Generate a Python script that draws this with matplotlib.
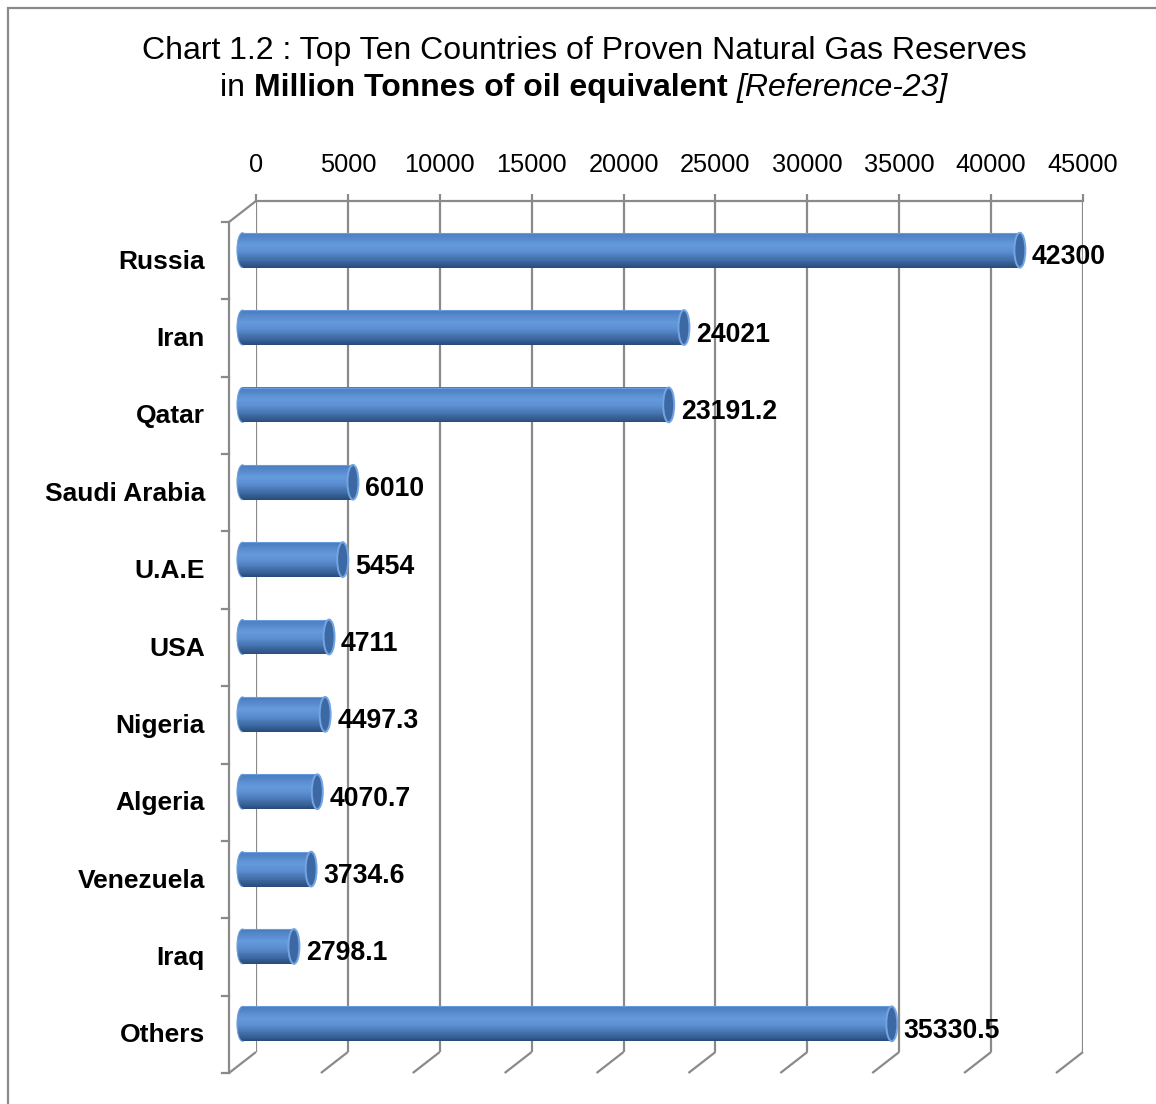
import matplotlib
matplotlib.use("Agg")
import matplotlib.pyplot as plt
import numpy as np
from matplotlib.transforms import ScaledTranslation
from matplotlib.patches import Ellipse, Rectangle
from matplotlib.colors import LinearSegmentedColormap

countries = ["Russia", "Iran", "Qatar", "Saudi Arabia", "U.A.E", "USA",
             "Nigeria", "Algeria", "Venezuela", "Iraq", "Others"]
reserves = [42300, 24021, 23191.2, 6010, 5454, 4711, 4497.3, 4070.7,
            3734.6, 2798.1, 35330.5]
value_labels = ["42300", "24021", "23191.2", "6010", "5454", "4711",
                "4497.3", "4070.7", "3734.6", "2798.1", "35330.5"]
xticks = [0, 5000, 10000, 15000, 20000, 25000, 30000, 35000, 40000, 45000]

FONT = "Liberation Sans"
W, H = 1156, 1104
fig = plt.figure(figsize=(W / 100, H / 100), dpi=100)

# back-plane pixel geometry
L, R, T, B = 256, 1083, 201, 1052
ax = fig.add_axes([L / W, 1 - B / H, (R - L) / W, (B - T) / H])
ax.set_xlim(0, 45000)
n = len(countries)
ax.set_ylim(n - 0.5, -0.5)
ax.set_facecolor("none")
for s in ["left", "right", "bottom"]:
    ax.spines[s].set_visible(False)
ax.spines["top"].set_color("#8a8a8a")
ax.spines["top"].set_linewidth(1.6)
ax.xaxis.tick_top()
ax.set_xticks(xticks)
ax.set_xticklabels([str(t) for t in xticks], fontfamily=FONT, fontsize=18.3)
ax.tick_params(axis="x", direction="out", length=5, width=1.6, color="#8a8a8a",
               pad=12)
ax.set_yticks([])
ax.grid(axis="x", color="#8a8a8a", linewidth=1.6)
ax.set_axisbelow(True)

# pixel -> data conversions
px_x = 45000 / (R - L)
px_y = n / (B - T)
DX, DY = 27, 21  # front plane offset (left, down)

gray = "#8a8a8a"
# floor diagonals
for t in xticks:
    ax.plot([t, t - DX * px_x], [n - 0.5, n - 0.5 + DY * px_y], color=gray,
            lw=1.6, clip_on=False, solid_capstyle="butt")
# left wall
fx = -DX * px_x
ax.plot([fx, fx], [-0.5 + DY * px_y, n - 0.5 + DY * px_y], color=gray, lw=1.6,
        clip_on=False)
ax.plot([0, fx], [-0.5, -0.5 + DY * px_y], color=gray, lw=1.6, clip_on=False)
for k in range(n + 1):
    yy = k - 0.5 + DY * px_y
    ax.plot([fx, fx - 7 * px_x], [yy, yy], color=gray, lw=1.6, clip_on=False)

# bars (mid-depth plane)
mid = ax.transData + ScaledTranslation(-13.5 / 100, -10.5 / 100, fig.dpi_scale_trans)
front = ax.transData + ScaledTranslation(-DX / 100, -(DY + 1) / 100, fig.dpi_scale_trans)
lab_tr = mid + ScaledTranslation(0, -7 / 100, fig.dpi_scale_trans)

cmap = LinearSegmentedColormap.from_list(
    "cyl", [(0.0, "#4a7bbd"), (0.12, "#5487ca"), (0.35, "#6499db"),
            (0.55, "#5b8ed0"), (0.8, "#3f6ca6"), (1.0, "#2a4d7b")])
bh = 0.45
N = 40
cap_w = 11 * px_x
for i, v in enumerate(reserves):
    # left rounded end (gradient strips clipped by an ellipse)
    le = Ellipse((0, i), cap_w, bh, transform=mid, facecolor="none",
                 edgecolor="#6e9edb", lw=0.8, zorder=3.5, clip_on=False)
    ax.add_patch(le)
    for j in range(N):
        yy = i - bh / 2 + (j + 0.5) * bh / N
        c = cmap(j / (N - 1))
        lb = ax.barh(yy, cap_w, height=bh / N * 1.08, left=-cap_w / 2, color=c,
                     linewidth=0, transform=mid, zorder=3)
        for p in lb:
            p.set_clip_path(le)
            p.set_clip_box(None)
        ax.barh(yy, v, height=bh / N * 1.08, left=0, color=c,
                linewidth=0, transform=mid, zorder=4, clip_on=False)
    # top highlight edge
    ax.plot([0, v], [i - bh / 2, i - bh / 2], color="#6a9de0", lw=0.8,
            transform=mid, zorder=4.5, clip_on=False)
    # end cap
    ax.add_patch(Ellipse((v, i), cap_w, bh, transform=mid, facecolor="#3c69a4",
                         edgecolor="#74a5e3", lw=1.4, zorder=5, clip_on=False))
    ax.text(v + 12 * px_x, i, value_labels[i], transform=lab_tr,
            ha="left", va="center", fontsize=19.2, fontweight="bold",
            fontfamily=FONT, zorder=6, clip_on=False)
    ax.text(-24 * px_x, i, countries[i], transform=front, ha="right",
            va="center", fontsize=19, fontweight="bold", fontfamily=FONT,
            clip_on=False)

# title
TFS = 23
fig.text(584 / W, 1 - 51 / H, "Chart 1.2 : Top Ten Countries of Proven Natural Gas Reserves",
         ha="center", va="center", fontsize=TFS, fontfamily=FONT)
parts = [("in ", "normal", "normal"),
         ("Million Tonnes of oil equivalent", "bold", "normal"),
         (" ", "normal", "normal"),
         ("[Reference-23]", "normal", "italic")]
renderer = fig.canvas.get_renderer()


def width_of(s, w, st):
    t = fig.text(0, 0, s, fontsize=TFS, fontweight=w, fontstyle=st, fontfamily=FONT)
    bb = t.get_window_extent(renderer)
    t.remove()
    return bb.width


def full_width(s, w, st):
    # width including trailing/leading spaces
    a = width_of("x" + s + "x", w, st)
    b = width_of("xx", w, st)
    return a - b


wd = [full_width(s, w, st) for s, w, st in parts]
tot = sum(wd)
x0 = 584 - tot / 2
for (s, w, st), w_ in zip(parts, wd):
    if s.strip():
        fig.text(x0 / W, 1 - 88 / H, s, ha="left", va="center", fontsize=TFS,
                 fontweight=w, fontstyle=st, fontfamily=FONT)
    x0 += w_

fig.patches.append(Rectangle((8 / W, -0.05), 1.1, 1 - 8 / H + 0.05,
                             transform=fig.transFigure, fill=False,
                             edgecolor="#8a8a8a", lw=1.6))
fig.savefig("out.png", dpi=100)
